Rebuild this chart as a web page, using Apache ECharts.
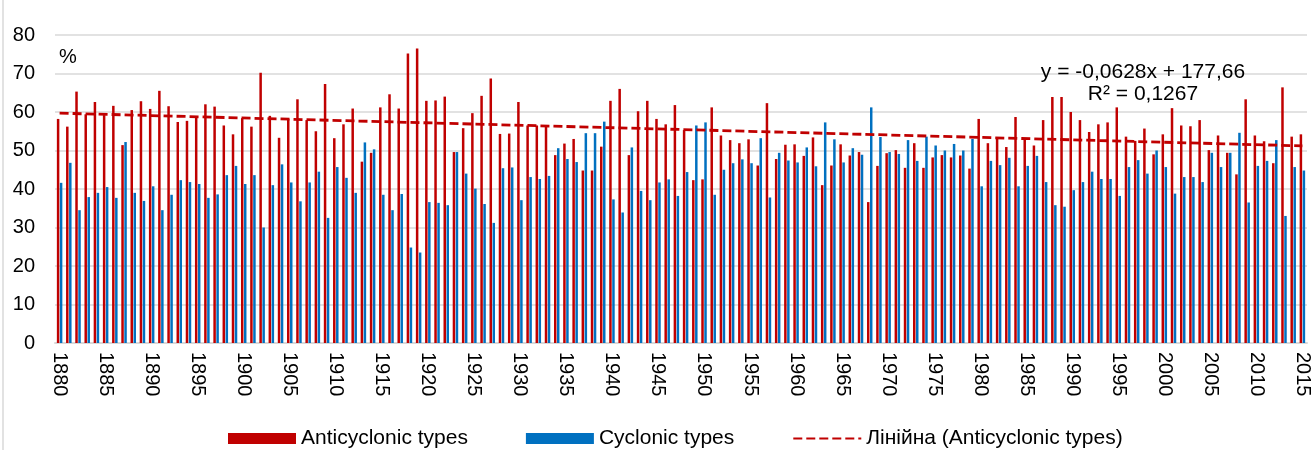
<!DOCTYPE html>
<html>
<head>
<meta charset="utf-8">
<script src="https://cdn.jsdelivr.net/npm/echarts@6/dist/echarts.min.js"></script>
<style>
  html, body { margin: 0; padding: 0; background: #fff; }
  #chart { width: 1315px; height: 450px; }
</style>
</head>
<body>
<div id="chart"></div>
<script>
// categories: years 1880..2015
const years = [];
for (let y = 1880; y <= 2015; y++) years.push(String(y));

// % of anticyclonic types per year
const anticyclonic = [
  58.2, 56.2, 65.3, 59.4, 62.6, 59.2, 61.6, 51.4, 60.5, 62.8, // 1880
  60.8, 65.5, 61.5, 57.4, 57.7, 58.5, 62.0, 61.4, 56.5, 54.2, // 1890
  58.4, 56.2, 70.2, 59.0, 53.3, 58.2, 63.3, 57.9, 55.0, 67.3, // 1900
  53.2, 56.8, 60.9, 47.1, 49.4, 61.2, 64.6, 60.9, 75.2, 76.5, // 1910
  62.9, 63.0, 64.0, 49.6, 55.8, 59.7, 64.2, 68.7, 54.3, 54.4, // 1920
  62.6, 56.5, 56.5, 56.1, 48.8, 51.8, 53.0, 44.8, 44.8, 51.0, // 1930
  62.9, 66.0, 48.8, 60.2, 62.9, 58.2, 56.8, 61.8, 55.3, 42.3, // 1940
  42.5, 61.2, 53.9, 52.7, 51.9, 52.9, 46.1, 62.3, 47.8, 51.5, // 1950
  51.6, 48.6, 53.4, 41.0, 46.1, 51.6, 48.7, 49.6, 36.6, 46.0, // 1960
  49.3, 50.1, 45.5, 51.9, 45.5, 48.2, 48.8, 48.2, 48.7, 45.3, // 1970
  58.2, 51.9, 53.5, 50.9, 58.7, 53.2, 51.3, 57.9, 63.9, 63.9, // 1980
  60.0, 57.9, 54.8, 56.8, 57.3, 61.2, 53.6, 52.5, 55.7, 49.0, // 1990
  54.2, 61.0, 56.5, 56.3, 57.9, 50.1, 53.9, 49.4, 43.8, 63.3, // 2000
  53.9, 52.4, 46.7, 66.4, 53.6, 54.2                          // 2010
];

// % of cyclonic types per year
const cyclonic = [
  41.6, 46.8, 34.5, 37.9, 39.0, 40.5, 37.7, 52.2, 39.0, 36.9, // 1880
  40.7, 34.5, 38.5, 42.3, 41.8, 41.3, 37.7, 38.6, 43.6, 46.0, // 1890
  41.3, 43.6, 30.0, 41.0, 46.4, 41.7, 36.8, 41.7, 44.5, 32.5, // 1900
  45.7, 42.9, 39.0, 52.1, 50.3, 38.5, 34.5, 38.7, 24.8, 23.5, // 1910
  36.6, 36.4, 35.8, 49.6, 44.0, 40.1, 36.1, 31.2, 45.4, 45.6, // 1920
  37.1, 43.1, 42.6, 43.4, 50.6, 47.8, 47.0, 54.5, 54.5, 57.5, // 1930
  37.3, 33.9, 50.8, 39.5, 37.1, 41.7, 42.5, 38.2, 44.4, 56.5, // 1940
  57.3, 38.5, 45.0, 46.7, 47.7, 46.7, 53.2, 37.8, 49.4, 47.4, // 1950
  46.9, 50.8, 45.9, 57.3, 52.9, 46.9, 50.6, 48.9, 61.2, 53.5, // 1960
  49.6, 49.1, 52.7, 47.3, 53.6, 51.3, 50.0, 51.7, 50.0, 53.0, // 1970
  40.7, 47.3, 46.2, 48.1, 40.7, 46.0, 48.6, 41.8, 35.8, 35.4, // 1980
  39.7, 41.8, 44.5, 42.6, 42.6, 38.2, 45.7, 47.5, 44.0, 50.0, // 1990
  45.7, 38.8, 43.1, 43.1, 41.8, 49.4, 45.7, 49.4, 54.6, 36.5, // 2000
  46.0, 47.3, 52.7, 33.0, 45.7, 44.8                          // 2010
];

// linear trend of anticyclonic types, end points
const trendPoints = [["1880", 59.7], ["2015", 51.2]];
const trendLabel = ["y = -0,0628x + 177,66", "R\u00b2 = 0,1267"];

const RED = "#C00000";
const BLUE = "#0070C0";
const GRID = "#d9d9d9";
const FONT = "'Liberation Sans', Arial, sans-serif";

const chart = echarts.init(document.getElementById("chart"), null, { renderer: "canvas" });

chart.setOption({
  animation: false,
  backgroundColor: "#fff",
  textStyle: { fontFamily: FONT, color: "#000" },
  grid: { left: 55, right: 8, top: 35, bottom: 107 },
  legend: {
    left: 223,
    top: 423,
    itemWidth: 68,
    itemHeight: 11,
    itemGap: 58,
    textStyle: { fontSize: 21, color: "#000", fontFamily: FONT },
    data: [
      { name: "Anticyclonic types", icon: "rect" },
      { name: "Cyclonic types", icon: "rect" },
      // line icon only, hide the marker ECharts puts on line legends
      { name: "Лінійна (Anticyclonic types)", itemStyle: { opacity: 0, borderWidth: 0 } }
    ]
  },
  xAxis: {
    type: "category",
    data: years,
    boundaryGap: true,
    axisLine: { lineStyle: { color: GRID, width: 2 } },
    axisTick: { interval: 4, length: 6, lineStyle: { color: GRID, width: 2 } },
    axisLabel: {
      interval: 4,
      rotate: -90,
      margin: 9,
      fontSize: 20,
      color: "#000",
      fontFamily: FONT
    },
    splitLine: { show: false }
  },
  yAxis: {
    type: "value",
    min: 0,
    max: 80,
    interval: 10,
    axisLine: { show: false },
    axisTick: { show: false },
    axisLabel: { fontSize: 20, margin: 20, color: "#000", fontFamily: FONT },
    splitLine: { lineStyle: { color: GRID, width: 1.5 } }
  },
  series: [
    {
      name: "Anticyclonic types",
      type: "bar",
      data: anticyclonic,
      barWidth: 2.5,
      barGap: "20%",
      itemStyle: { color: RED }
    },
    {
      name: "Cyclonic types",
      type: "bar",
      data: cyclonic,
      barWidth: 2.5,
      itemStyle: { color: BLUE }
    },
    {
      name: "Лінійна (Anticyclonic types)",
      type: "line",
      data: trendPoints,
      symbol: "none",
      z: 5,
      lineStyle: { color: RED, width: 2.8, type: [9, 4] },
      itemStyle: { color: RED }
    }
  ],
  graphic: [
    {
      type: "line",
      shape: { x1: 3, y1: 0, x2: 3, y2: 450 },
      style: { stroke: GRID, lineWidth: 1.5 }
    },
    {
      type: "text",
      x: 59,
      y: 47,
      style: { text: "%", fontSize: 20, fontFamily: FONT, fill: "#000" }
    },
    {
      type: "text",
      x: 1143,
      y: 72,
      style: {
        text: trendLabel[0],
        fontSize: 21,
        fontFamily: FONT,
        fill: "#000",
        align: "center",
        verticalAlign: "middle"
      },
      z: 10
    },
    {
      type: "text",
      x: 1143,
      y: 94,
      style: {
        text: trendLabel[1],
        fontSize: 21,
        fontFamily: FONT,
        fill: "#000",
        align: "center",
        verticalAlign: "middle"
      },
      z: 10
    }
  ]
});
</script>
</body>
</html>
